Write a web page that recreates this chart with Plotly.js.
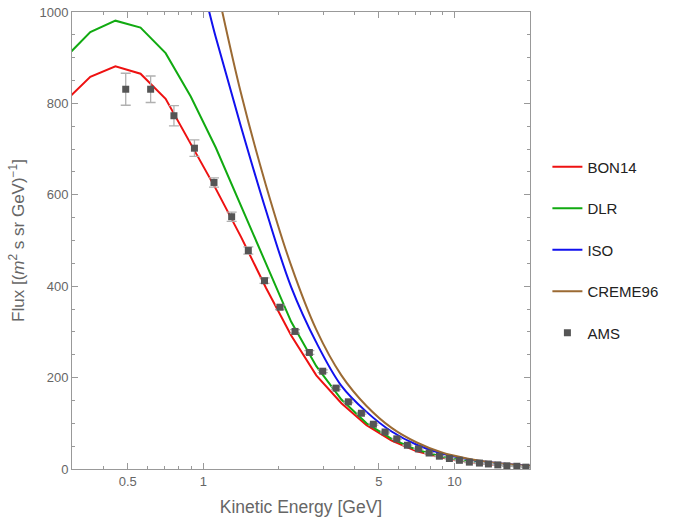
<!DOCTYPE html>
<html>
<head>
<meta charset="utf-8">
<script src="https://cdn.plot.ly/plotly-3.0.1.min.js"></script>
<style>html,body{margin:0;padding:0;background:#fff;}#plot{width:682px;height:519px;}</style>
</head>
<body>
<div id="plot"></div>
<script>
// Model energy grid (GeV)
var modelE = [0.2818, 0.3548, 0.4467, 0.5623, 0.7079, 0.8913, 1.122, 1.413, 1.778, 2.239, 2.818, 3.548, 4.467, 5.623, 7.079, 8.913, 11.22, 14.13, 17.78, 22.39];
var bon14  = [805, 858, 881, 865, 810, 712, 613, 508, 396, 292, 205, 144, 96, 62, 39, 25, 16, 10, 6.5, 4];
var dlr    = [900, 956, 981, 966, 910, 815, 703, 577, 450, 322, 225, 152, 100, 66, 42, 27, 17, 11, 7, 4.5];
var iso    = [2000, 1800, 1600, 1420, 1280, 1150, 944, 749, 565, 398, 277, 182, 125, 82, 53, 34, 22, 14, 9, 6];
var creme  = [2600, 2300, 2050, 1800, 1560, 1330, 1065, 822, 620, 445, 305, 205, 138, 90, 58, 36, 23, 14.5, 9, 5.5];

// AMS data
var amsE = [0.491, 0.617, 0.764, 0.922, 1.103, 1.297, 1.511, 1.753, 2.021, 2.319, 2.645, 2.990, 3.379, 3.782, 4.262, 4.757, 5.296, 5.896, 6.497, 7.188, 7.930, 8.714, 9.551, 10.47, 11.47, 12.58, 13.66, 14.89, 16.18, 17.73, 19.25];
var amsF = [831, 831, 773, 702, 627, 552, 478, 412, 354, 301, 255, 214, 177, 147, 122, 98, 81, 66, 52, 44, 35, 28, 23, 19, 15, 13, 11, 9, 7, 6, 4];
var amsErr = [35, 29, 22, 18, 10, 10, 8, 6, 5, 4, 4, 3, 3, 2, 2, 2, 2, 1, 1, 1, 1, 1, 1, 1, 1, 1, 1, 1, 1, 1, 1];

var xTickVals = [0.5, 1, 5, 10];
var xTickText = ['0.5', '1', '5', '10'];
var xMinorVals = [0.3, 0.4, 0.6, 0.7, 0.8, 0.9, 2, 3, 4, 6, 7, 8, 9, 20];

function line(name, y, color, spline) {
  return {x: modelE, y: y, name: name, type: 'scatter', mode: 'lines',
    legendgroup: name,
    line: {color: color, width: 2, shape: spline ? 'spline' : 'linear'}};
}

var traces = [
  line('BON14', bon14, '#ee1111', false),
  line('DLR', dlr, '#11aa11', false),
  line('ISO', iso, '#1111ee', true),
  line('CREME96', creme, '#9b6a33', true),
  {x: amsE, y: amsF, name: 'AMS', type: 'scatter', mode: 'markers', legendgroup: 'AMS',
   marker: {symbol: 'square', size: 7, color: '#555555'},
   error_y: {type: 'data', array: amsErr, visible: true, color: '#b0b0b0', thickness: 1.3, width: 5}}
];

var axisCommon = {
  showgrid: false, zeroline: false, showline: true, linecolor: '#999999', linewidth: 1,
  mirror: 'allticks', ticks: 'inside', tickcolor: '#999999', ticklen: 6,
  tickfont: {family: 'Liberation Sans, Arial, sans-serif', size: 13, color: '#666666'}
};

var layout = {
  width: 682, height: 519,
  margin: {l: 72, r: 152, t: 12, b: 50},
  paper_bgcolor: '#ffffff', plot_bgcolor: '#ffffff',
  font: {family: 'Liberation Sans, Arial, sans-serif', color: '#666666'},
  xaxis: Object.assign({}, axisCommon, {
    type: 'log', range: [Math.log10(0.3), Math.log10(20)],
    tickmode: 'array', tickvals: xTickVals, ticktext: xTickText,
    minor: {tickmode: 'array', tickvals: xMinorVals, ticks: 'inside', ticklen: 3, tickcolor: '#999999'},
    title: {text: 'Kinetic Energy [GeV]', font: {size: 17.5, color: '#666666'}, standoff: 13}
  }),
  yaxis: Object.assign({}, axisCommon, {
    range: [0, 1000], tickmode: 'linear', tick0: 0, dtick: 200,
    minor: {dtick: 50, ticks: 'inside', ticklen: 3, tickcolor: '#999999'},
    title: {text: 'Flux [(<i>m</i><sup>2</sup> s sr GeV)<sup>\u22121</sup>]', font: {size: 17, color: '#666666'}, standoff: 10}
  }),
  showlegend: true,
  legend: {x: 1.038, y: 0.697, xanchor: 'left', yanchor: 'top', traceorder: 'grouped',
    tracegroupgap: 19, font: {size: 15, color: '#222222'}, bgcolor: 'rgba(0,0,0,0)'}
};

Plotly.newPlot('plot', traces, layout, {displayModeBar: false, staticPlot: true});
</script>
</body>
</html>
